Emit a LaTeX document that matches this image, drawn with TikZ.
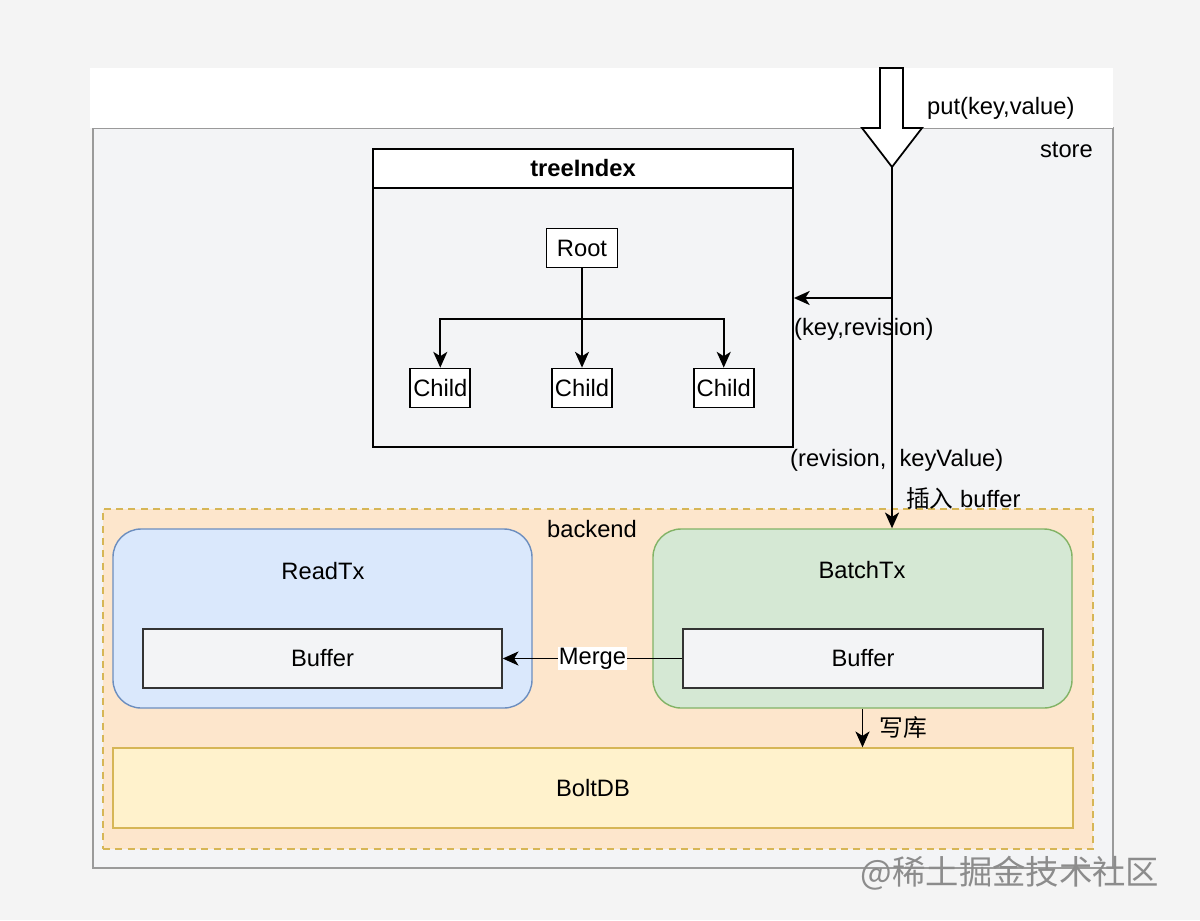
\documentclass[tikz,border=0pt]{standalone}
\usepackage{fontspec}
\setmainfont{Liberation Sans}
\newfontfamily\cjk{Noto Sans CJK SC}
\usepackage{tikz}
\usetikzlibrary{arrows.meta,positioning,fit}
\definecolor{Page}{HTML}{F4F4F4}
\definecolor{StoreFill}{HTML}{F3F4F6}
\definecolor{StoreLine}{HTML}{9A9A9A}
\definecolor{BackFill}{HTML}{FDE6CC}
\definecolor{BackLine}{HTML}{D6B656}
\definecolor{ReadFill}{HTML}{DAE8FC}
\definecolor{ReadLine}{HTML}{6C8EBF}
\definecolor{BatchFill}{HTML}{D5E8D4}
\definecolor{BatchLine}{HTML}{82B366}
\definecolor{BoltFill}{HTML}{FFF2CC}

\begin{document}
\begin{tikzpicture}[
  x=0.02cm, y=-0.02cm,
  >={Stealth[length=9pt,width=8pt,inset=2.5pt]},
  every node/.style={font=\fontsize{13.5}{16}\selectfont},
  area/.style={inner sep=0pt, line width=0.8pt},
  leaf/.style={
    draw=black,
    fill=white,
    line width=1pt,
    inner xsep=1.5pt,
    inner ysep=2pt,
    minimum height=0.78cm,
    minimum width=1.2cm
  },
  txbox/.style={area, rounded corners=16pt},
  bufbox/.style={area, draw=black!80, fill=StoreFill},
  flow/.style={->, line width=1pt}
]
\useasboundingbox (0,0) rectangle (1200,920);
\fill[Page] (0,0) rectangle (1200,920);

% store
\node[area, draw=StoreLine, fill=StoreFill, fit={(93,128) (1113,868)}] (store) {};
\node[area, fill=white, fit={(90,68) (1113,128)}] (top) {};
\node[anchor=east] (storelbl) at (1099,150) {store};

% put(key,value)
\draw[fill=white, line width=1pt] (880,68) -- (903,68) -- (903,128) -- (922,128)
  -- (892,167) -- (862,128) -- (880,128) -- cycle;
\coordinate (puttip) at (892,167);
\node[anchor=west] (putlbl) at (921,108) {put(key,value)};

% treeIndex
\node[area, draw=black, line width=1pt, fill=StoreFill, fit={(373,149) (793,447)}] (tree) {};
\node[area, draw=black, line width=1pt, fill=white, fit={(373,149) (793,188)},
  label=center:\textbf{treeIndex}] (treehead) {};
\node[leaf, minimum width=1.42cm] (root) at (582,248) {Root};
\node[leaf] (c2) at (582,388) {Child};
\node[leaf, left=1.6cm of c2] (c1) {Child};
\node[leaf, right=1.6cm of c2] (c3) {Child};
\coordinate (split) at (582,319);
\draw[flow] (root) -- (c2);
\draw[flow] (split) -| (c1);
\draw[flow] (split) -| (c3);

% backend
\node[area, draw=BackLine, dash pattern=on 4pt off 3pt, fill=BackFill, fit={(103,509) (1093,849)}] (backend) {};
\node (backlbl) at (592,529) {backend};

\node[txbox, draw=ReadLine, fill=ReadFill, fit={(113,529) (532,708)}] (readtx) {};
\node (readlbl) at (323,571) {ReadTx};
\node[bufbox, fit={(143,629) (502,688)}, label=center:Buffer] (readbuf) {};

\node[txbox, draw=BatchLine, fill=BatchFill, fit={(653,529) (1072,708)}] (batchtx) {};
\node (batchlbl) at (862,570) {BatchTx};
\node[bufbox, fit={(683,629) (1043,688)}, label=center:Buffer] (batchbuf) {};

\node[area, draw=BackLine, fill=BoltFill, fit={(113,748) (1073,828)}, label=center:BoltDB] (boltdb) {};

% Flèches
\draw[flow] (puttip) -- (puttip |- batchtx.north);
\coordinate (branch) at (892,298);
\draw[flow] (branch) -- (branch -| tree.east);
\node[anchor=west] (keyrev) at (788,329) {(key,revision)};
\node[anchor=west] (revkv) at (784,460) {(revision,\ \ keyValue)};
\node[anchor=west] (insert) at (900,498) {{\cjk 插入} buffer};
\draw[flow] (batchbuf) -- (readbuf) node[midway, fill=white, inner sep=0.5pt] (merge) {Merge};
\draw[flow] (batchtx) -- (batchtx |- boltdb.north) node[midway, right=6pt] (write) {\cjk 写库};

\node[text=black!45, font=\cjk\fontsize{19}{21}\selectfont] (mark) at (1010,873) {@稀土掘金技术社区};
\end{tikzpicture}
\end{document}
